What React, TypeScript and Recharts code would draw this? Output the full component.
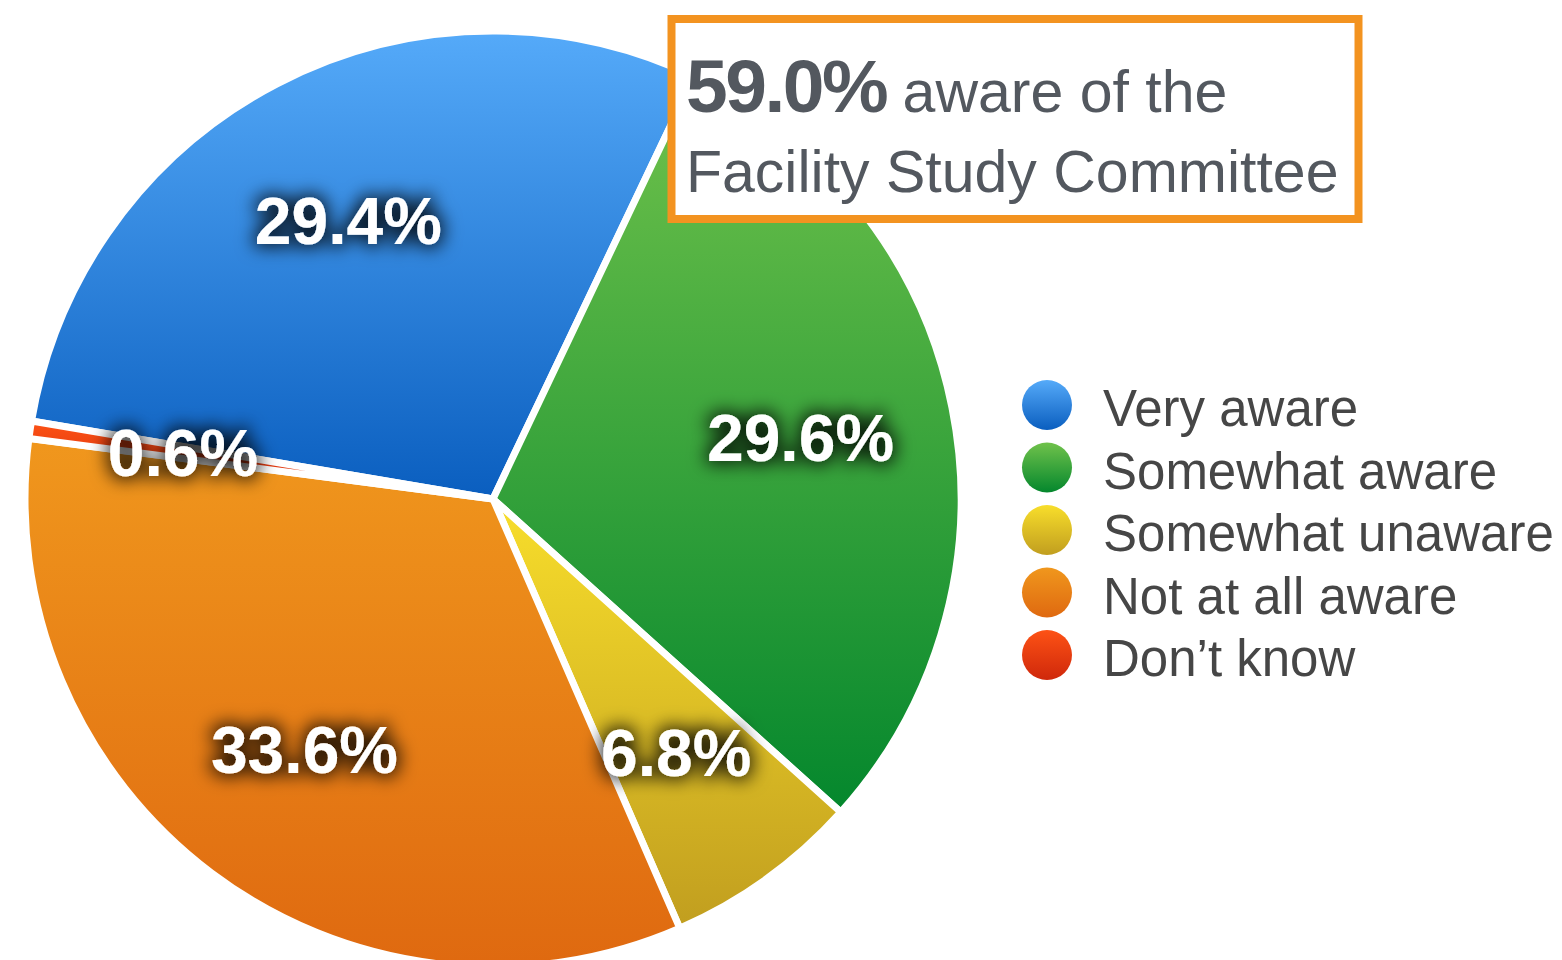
import React from "react";
import { PieChart, Pie, Cell, Legend } from "recharts";

// survey answers
const categories = ["Very aware", "Somewhat aware", "Somewhat unaware", "Not at all aware", "Don’t know"];
const shares = [29.4, 29.6, 6.8, 33.6, 0.6];
const calloutValue = "59.0%";
const calloutLine1 = " aware of the";
const calloutLine2 = "Facility Study Committee";

// vertical gradient per slice (top -> bottom)
const topColors = ["#55aaf9", "#70c24b", "#f8de2b", "#f0971d", "#fd5215"];
const bottomColors = ["#0a5ebf", "#04872d", "#c19e1f", "#df6910", "#cf280b"];

const data = categories.map((name, i) => ({ name, value: shares[i] }));

const RADIAN = Math.PI / 180;
const FONT = '"Liberation Sans", Arimo, Arial, sans-serif';
const TEXT_GRAY = "#53585f";

const renderLabel = (props: any) => {
  const { cx, cy, midAngle, outerRadius, value } = props;
  const r = outerRadius * 0.67;
  const x = cx + r * Math.cos(-midAngle * RADIAN);
  const y = cy + r * Math.sin(-midAngle * RADIAN);
  return (
    <text
      x={x}
      y={y}
      fill="#fff"
      textAnchor="middle"
      dominantBaseline="central"
      fontFamily={FONT}
      fontWeight="bold"
      fontSize={66}
      filter="url(#labelGlow)"
    >
      {Number(value).toFixed(1)}%
    </text>
  );
};

// legend keeps the data order (recharts would sort it by name otherwise)
const renderLegend = () => (
  <svg width={540} height={320} style={{ display: "block", overflow: "visible" }}>
    {categories.map((name, i) => (
      <g key={name} transform={`translate(0, ${i * 62.5})`}>
        <circle cx={25} cy={25} r={25} fill={`url(#sliceGrad${i})`} />
        <text x={81} y={46} fontSize={51} fill="#464646" fontFamily={FONT}>
          {name}
        </text>
      </g>
    ))}
  </svg>
);

export default function App() {
  return (
    <div style={{ position: "absolute", left: 0, top: 0, width: 1562, height: 960, background: "#fff", overflow: "hidden" }}>
      {/* shared gradients + label glow */}
      <svg width={0} height={0} style={{ position: "absolute" }}>
        <defs>
          {topColors.map((c, i) => (
            <linearGradient key={i} id={`sliceGrad${i}`} x1="0" y1="0" x2="0" y2="1">
              <stop offset="0%" stopColor={c} />
              <stop offset="100%" stopColor={bottomColors[i]} />
            </linearGradient>
          ))}
          <filter id="labelGlow" x="-40%" y="-60%" width="180%" height="220%">
            <feMorphology in="SourceAlpha" operator="dilate" radius="3" result="fat" />
            <feGaussianBlur in="fat" stdDeviation="9" result="blur" />
            <feFlood floodColor="#000" floodOpacity="0.8" />
            <feComposite in2="blur" operator="in" result="shadow" />
            <feMerge>
              <feMergeNode in="shadow" />
              <feMergeNode in="SourceGraphic" />
            </feMerge>
          </filter>
        </defs>
      </svg>

      <PieChart width={1562} height={960} margin={{ top: 0, right: 0, bottom: 0, left: 0 }}>
        <Pie
          data={data}
          dataKey="value"
          nameKey="name"
          cx={493}
          cy={499}
          outerRadius={468}
          startAngle={170.4}
          endAngle={-189.6}
          stroke="#fff"
          strokeWidth={7}
          label={renderLabel}
          labelLine={false}
          isAnimationActive={false}
        >
          {data.map((d, i) => (
            <Cell key={d.name} fill={`url(#sliceGrad${i})`} />
          ))}
        </Pie>
        <Legend
          content={renderLegend}
          wrapperStyle={{ left: 1022, top: 380, right: "auto", bottom: "auto", width: 540, height: 320 }}
        />
      </PieChart>

      {/* callout box */}
      <svg width={1562} height={960} style={{ position: "absolute", left: 0, top: 0, pointerEvents: "none" }}>
        <rect x={671.5} y={19} width={687} height={200} fill="#fff" stroke="#f39320" strokeWidth={8} />
        <text x={686} y={112} fill={TEXT_GRAY} fontFamily={FONT}>
          <tspan fontWeight="bold" fontSize={75} letterSpacing={-2.5}>{calloutValue}</tspan>
          <tspan fontSize={59} letterSpacing={0}>{calloutLine1}</tspan>
        </text>
        <text x={686} y={192} fill={TEXT_GRAY} fontFamily={FONT} fontSize={59}>
          {calloutLine2}
        </text>
      </svg>
    </div>
  );
}
